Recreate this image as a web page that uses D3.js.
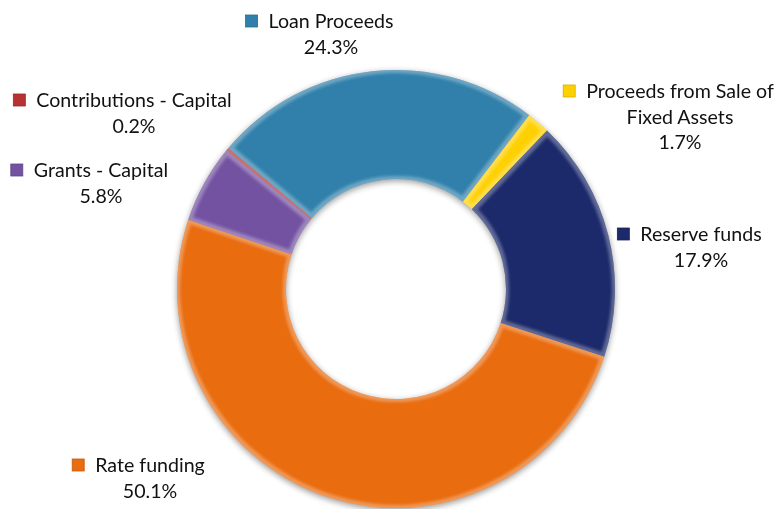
<!DOCTYPE html>
<html>
<head>
<meta charset="utf-8">
<script src="https://cdn.jsdelivr.net/npm/d3@7"></script>
<style>
  body { margin: 0; background: #fff; }
  svg text { font-family: Lato, "Open Sans", sans-serif; font-size: 19.6px; fill: #111; }
  filter { color-interpolation-filters: sRGB; }
</style>
</head>
<body>
<div class="container"></div>
<script>
const width = 776,
    height = 509;

// data, clockwise from the first slice
const categories = ['Loan Proceeds', 'Proceeds from Sale of Fixed Assets', 'Reserve funds', 'Rate funding', 'Grants - Capital', 'Contributions - Capital'];
const shares = [24.3, 1.7, 17.9, 50.1, 5.8, 0.2];
const colors = ['#3180ab', '#ffd000', '#1c2a6b', '#e96c0f', '#7352a1', '#b83232'];
const labelLines = [['Loan Proceeds'], ['Proceeds from Sale of', 'Fixed Assets'], ['Reserve funds'], ['Rate funding'], ['Grants - Capital'], ['Contributions - Capital']];

// label placement (text centre x, first baseline y)
const labelAt = [[331, 28], [680, 98], [701, 241], [150, 472], [101, 177], [134, 107]];

const cx = 396, cy = 289,
    outerR = 219, innerR = 110,
    start = -50 * Math.PI / 180;

const svg = d3.select('.container')
    .append('svg')
    .attr('width', width)
    .attr('height', height);

const defs = svg.append('defs');

const shadow = defs.append('filter').attr('id', 'shadow')
    .attr('x', '-20%').attr('y', '-20%').attr('width', '140%').attr('height', '140%');
shadow.append('feGaussianBlur').attr('in', 'SourceAlpha').attr('stdDeviation', 3).attr('result', 'b');
shadow.append('feOffset').attr('in', 'b').attr('dx', 0).attr('dy', 2).attr('result', 'o');
shadow.append('feComponentTransfer').attr('in', 'o').attr('result', 's')
    .append('feFuncA').attr('type', 'linear').attr('slope', 0.4);
const sm = shadow.append('feMerge');
sm.append('feMergeNode').attr('in', 's');
sm.append('feMergeNode').attr('in', 'SourceGraphic');

// soft light rim along each slice edge
const bevel = defs.append('filter').attr('id', 'bevel')
    .attr('x', '-10%').attr('y', '-10%').attr('width', '120%').attr('height', '120%');
bevel.append('feMorphology').attr('in', 'SourceAlpha').attr('operator', 'erode').attr('radius', 2.5).attr('result', 'er');
bevel.append('feGaussianBlur').attr('in', 'er').attr('stdDeviation', 1.5).attr('result', 'eb');
bevel.append('feComposite').attr('in', 'SourceAlpha').attr('in2', 'eb').attr('operator', 'out').attr('result', 'edge');
bevel.append('feFlood').attr('flood-color', '#ffffff').attr('flood-opacity', 0.3).attr('result', 'fl');
bevel.append('feComposite').attr('in', 'fl').attr('in2', 'edge').attr('operator', 'in').attr('result', 'hl');
const bm = bevel.append('feMerge');
bm.append('feMergeNode').attr('in', 'SourceGraphic');
bm.append('feMergeNode').attr('in', 'hl');

const pie = d3.pie()
    .sort(null)
    .value(d => d)
    .startAngle(start)
    .endAngle(start + 2 * Math.PI);

const arc = d3.arc()
    .innerRadius(innerR)
    .outerRadius(outerR);

const donut = svg.append('g')
    .attr('transform', `translate(${cx},${cy})`)
    .attr('filter', 'url(#shadow)');

donut.selectAll('path')
    .data(pie(shares))
    .enter()
    .append('path')
    .attr('d', arc)
    .attr('fill', (d, i) => colors[i])
    .attr('filter', 'url(#bevel)');

const labels = svg.append('g');

labelLines.forEach((lines, i) => {
    const g = labels.append('g');
    lines.concat([shares[i].toFixed(1) + '%']).forEach((t, j) => {
        g.append('text')
            .attr('x', labelAt[i][0])
            .attr('y', labelAt[i][1] + j * 25.5)
            .attr('text-anchor', 'middle')
            .text(t);
    });
    const first = g.select('text').node();
    const w = first.getComputedTextLength();
    g.append('rect')
        .attr('x', labelAt[i][0] - w / 2 - 23)
        .attr('y', labelAt[i][1] - 13)
        .attr('width', 12)
        .attr('height', 12)
        .attr('fill', colors[i])
        .attr('stroke', d3.color(colors[i]).darker(0.5))
        .attr('stroke-width', 0.8);
});
</script>
</body>
</html>
